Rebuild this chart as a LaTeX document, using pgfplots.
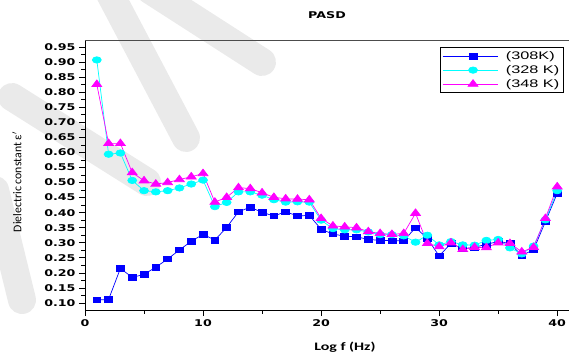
\documentclass[border=0pt]{standalone}
\usepackage{fontspec}
\usepackage{pgfplots}
\pgfplotsset{compat=1.18}
\usetikzlibrary{backgrounds}
\setmainfont{Liberation Sans}
\newfontfamily\tickfont[FakeStretch=1.36]{DejaVu Sans}
\newfontfamily\legfont[FakeStretch=1.48]{Liberation Sans}
\newfontfamily\labfont[FakeStretch=1.4]{Carlito}
\newfontfamily\ylabfont{Carlito}
\definecolor{cblue}{RGB}{0,0,255}
\definecolor{ccyan}{RGB}{0,255,255}
\definecolor{cmag}{RGB}{255,0,255}
\definecolor{wm}{RGB}{234,234,234}

\pgfplotstableread{
x   a      b      c
1   0.110  0.907  0.826
2   0.112  0.594  0.630
3   0.215  0.598  0.630
4   0.185  0.507  0.533
5   0.195  0.473  0.506
6   0.219  0.469  0.495
7   0.246  0.473  0.500
8   0.276  0.482  0.510
9   0.305  0.495  0.519
10  0.328  0.508  0.530
11  0.309  0.420  0.435
12  0.351  0.434  0.451
13  0.403  0.469  0.483
14  0.418  0.469  0.480
15  0.401  0.458  0.466
16  0.389  0.443  0.451
17  0.403  0.435  0.446
18  0.389  0.436  0.445
19  0.391  0.435  0.443
20  0.345  0.375  0.381
21  0.329  0.347  0.356
22  0.322  0.343  0.353
23  0.320  0.343  0.350
24  0.311  0.336  0.337
25  0.308  0.327  0.331
26  0.307  0.327  0.328
27  0.307  0.323  0.331
28  0.350  0.302  0.398
29  0.315  0.325  0.298
30  0.256  0.293  0.287
31  0.298  0.304  0.300
32  0.280  0.293  0.278
33  0.285  0.292  0.285
34  0.295  0.308  0.284
35  0.304  0.311  0.300
36  0.298  0.283  0.298
37  0.258  0.263  0.270
38  0.277  0.289  0.285
39  0.370  0.376  0.381
40  0.464  0.473  0.486
}\datatab

\begin{document}
\begin{tikzpicture}
\begin{axis}[
  scale only axis,
  width=484pt, height=270pt,
  xmin=0, xmax=41,
  ymin=0.0768, ymax=0.9732,
  clip=false,
  axis x line*=bottom,
  axis y line*=left,
  axis line style={black, line width=0.9pt},
  tick align=outside,
  major tick length=6pt,
  minor tick length=3.5pt,
  tick style={black, line width=0.7pt},
  xtick={0,10,20,30,40},
  minor x tick num=1,
  ytick={0.10,0.15,0.20,0.25,0.30,0.35,0.40,0.45,0.50,0.55,0.60,0.65,0.70,0.75,0.80,0.85,0.90,0.95},
  minor y tick num=1,
  yticklabel style={/pgf/number format/.cd, fixed, fixed zerofill, precision=2},
  /pgf/number format/assume math mode=true,
  tick label style={font=\tickfont\bfseries\fontsize{9.3}{10}\selectfont},
  legend style={
    at={(0.733,0.974)}, anchor=north west,
    draw=black, line width=0.8pt,
    inner xsep=2pt, inner ysep=2pt,
    column sep=6pt, row sep=0.5pt,
    font=\legfont\fontsize{11}{13}\selectfont,
    nodes={inner sep=2pt},
  },
  legend cell align=left,
  legend image code/.code={
    \path (0pt,0pt) -- (6pt,0pt);
    \draw[#1, mark repeat=2, mark phase=2] plot coordinates {(6pt,0pt) (30.5pt,0pt) (55pt,0pt)};
  },
]
\addplot[cblue, line width=0.7pt, mark=square*, mark size=2.8pt, mark options={xscale=1.4, fill=cblue, draw=cblue}] table[x=x, y=a] {\datatab};
\addlegendentry{(308K)}
\addplot[ccyan, line width=0.7pt, mark=*, mark size=3.2pt, mark options={xscale=1.4, fill=ccyan, draw=ccyan}] table[x=x, y=b] {\datatab};
\addlegendentry{(328 K)}
\addplot[cmag, line width=0.7pt, mark=triangle*, mark size=4.4pt, mark options={xscale=1.3, fill=cmag, draw=cmag}] table[x=x, y=c] {\datatab};
\addlegendentry{(348 K)}

\draw[gray!60!black, line width=0.9pt] (rel axis cs:0,1) -- (rel axis cs:1.05,1);
\node[font=\tickfont\bfseries\fontsize{9.3}{10}\selectfont] at ([yshift=24.5pt]rel axis cs:0.5,1) {PASD};
\node[font=\labfont\bfseries\fontsize{11.4}{12}\selectfont] at ([yshift=-37pt]rel axis cs:0.537,0) {Log f (Hz)};
\node[rotate=90, font=\ylabfont\fontsize{11.8}{12}\selectfont] at ([xshift=-68pt]rel axis cs:0,0.474) {Dielectric constant ε$'$};
\end{axis}
\begin{scope}[on background layer, shift={([xshift=-85pt,yshift=310pt]current axis.south west)}, x=1pt, y=-1pt]
  \draw[wm, line width=28pt, line cap=round] (12,97) -- (147,182);
  \draw[wm, line width=28pt, line cap=round] (108,-10) -- (186,138);
  \draw[wm, line width=28pt, line cap=round] (150,-10) -- (262,62);
  \draw[wm, line width=28pt, line cap=round] (-5,190) -- (22,300);
\end{scope}
\pgfresetboundingbox
\useasboundingbox ([xshift=-85pt,yshift=-44pt]current axis.south west) rectangle ([yshift=40pt]current axis.north east);
\end{tikzpicture}
\end{document}
